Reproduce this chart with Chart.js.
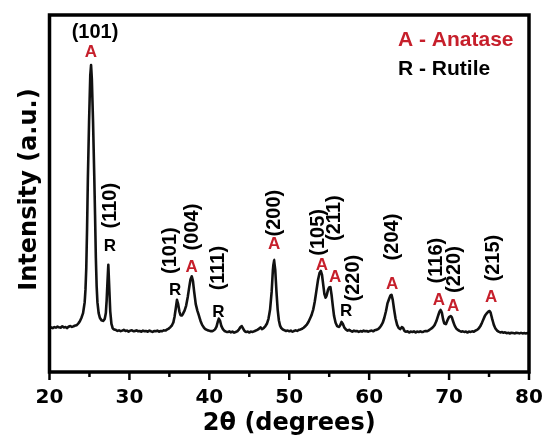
<!DOCTYPE html>
<html>
<head>
<meta charset="utf-8">
<script src="https://cdn.jsdelivr.net/npm/chart.js@4.4.1/dist/chart.umd.min.js"></script>
<style>
  html, body { margin: 0; padding: 0; background: #fff; }
  #xrd { display: block; }
</style>
</head>
<body>
<canvas id="xrd" width="544" height="436"></canvas>
<script>
// XRD pattern, 2theta (deg) vs intensity (a.u.)
const twoTheta = [
  20.0, 20.2, 20.4, 20.6, 20.8, 21.0, 21.2, 21.4, 21.6, 21.8,
  22.0, 22.2, 22.4, 22.6, 22.8, 23.0, 23.2, 23.4, 23.6, 23.8,
  24.0, 24.2, 24.4, 24.5, 24.6, 24.7, 24.8, 24.95, 25.1, 25.2,
  25.3, 25.45, 25.6, 25.7, 25.8, 25.9, 26.0, 26.15, 26.3, 26.5,
  26.7, 26.9, 27.05, 27.15, 27.25, 27.36, 27.47, 27.6, 27.75, 27.9,
  28.1, 28.3, 28.5, 28.7, 28.9, 29.1, 29.3, 29.5, 29.7, 29.9,
  30.1, 30.3, 30.5, 30.7, 30.9, 31.1, 31.3, 31.5, 31.7, 31.9,
  32.1, 32.3, 32.5, 32.7, 32.9, 33.1, 33.3, 33.5, 33.7, 33.9,
  34.1, 34.3, 34.5, 34.7, 34.9, 35.1, 35.3, 35.5, 35.65, 35.8,
  35.95, 36.1, 36.25, 36.4, 36.55, 36.7, 36.9, 37.1, 37.3, 37.5,
  37.65, 37.8, 37.95, 38.1, 38.3, 38.5, 38.7, 38.9, 39.1, 39.3,
  39.5, 39.7, 39.9, 40.1, 40.3, 40.5, 40.7, 40.9, 41.05, 41.2,
  41.35, 41.5, 41.7, 41.9, 42.1, 42.3, 42.5, 42.7, 42.9, 43.1,
  43.3, 43.5, 43.7, 43.9, 44.05, 44.2, 44.4, 44.6, 44.8, 45.0,
  45.2, 45.4, 45.6, 45.8, 46.0, 46.2, 46.4, 46.6, 46.8, 47.0,
  47.2, 47.4, 47.6, 47.8, 47.95, 48.1, 48.25, 48.4, 48.55, 48.7,
  48.85, 49.0, 49.2, 49.4, 49.6, 49.8, 50.0, 50.2, 50.4, 50.6,
  50.8, 51.0, 51.2, 51.4, 51.6, 51.8, 52.0, 52.2, 52.4, 52.6,
  52.8, 53.0, 53.2, 53.4, 53.6, 53.8, 53.95, 54.1, 54.25, 54.4,
  54.55, 54.7, 54.85, 55.0, 55.15, 55.3, 55.45, 55.6, 55.8, 56.0,
  56.2, 56.4, 56.55, 56.7, 56.9, 57.1, 57.3, 57.5, 57.7, 57.9,
  58.1, 58.3, 58.5, 58.7, 58.9, 59.1, 59.3, 59.5, 59.7, 59.9,
  60.1, 60.3, 60.5, 60.7, 60.9, 61.1, 61.3, 61.5, 61.7, 61.9,
  62.1, 62.3, 62.5, 62.65, 62.8, 62.95, 63.1, 63.3, 63.5, 63.7,
  63.9, 64.1, 64.25, 64.4, 64.6, 64.8, 65.0, 65.2, 65.4, 65.6,
  65.8, 66.0, 66.2, 66.4, 66.6, 66.8, 67.0, 67.2, 67.4, 67.6,
  67.8, 68.0, 68.2, 68.4, 68.6, 68.8, 68.95, 69.1, 69.25, 69.4,
  69.6, 69.8, 70.0, 70.2, 70.35, 70.5, 70.7, 70.9, 71.1, 71.3,
  71.5, 71.7, 71.9, 72.1, 72.3, 72.5, 72.7, 72.9, 73.1, 73.3,
  73.5, 73.7, 73.9, 74.1, 74.3, 74.5, 74.7, 74.9, 75.05, 75.2,
  75.4, 75.6, 75.8, 76.0, 76.2, 76.4, 76.6, 76.8, 77.0, 77.2,
  77.4, 77.6, 77.8, 78.0, 78.2, 78.4, 78.6, 78.8, 79.0, 79.2,
  79.4, 79.6, 79.8, 80.0
];
const intensity = [
  12.2, 12.5, 12.3, 12.6, 12.4, 12.7, 12.5, 12.4, 12.8, 12.5,
  12.6, 12.3, 12.7, 12.9, 12.6, 12.8, 13.0, 13.1, 13.6, 14.2,
  15.2, 16.5, 19.5, 23.0, 29.0, 40.0, 54.0, 70.0, 83.0, 86.0,
  82.0, 70.0, 55.0, 44.0, 32.0, 24.0, 19.5, 16.5, 15.2, 14.5,
  14.3, 14.8, 16.5, 20.0, 25.0, 30.0, 24.0, 17.0, 13.5, 12.3,
  11.9, 11.8, 11.5, 11.7, 11.4, 11.6, 11.8, 11.5, 11.6, 11.3,
  11.6, 11.7, 11.4, 11.5, 11.7, 11.4, 11.5, 11.3, 11.6, 11.4,
  11.5, 11.3, 11.6, 11.4, 11.2, 11.5, 11.4, 11.6, 11.3, 11.5,
  11.4, 11.7, 11.6, 11.9, 12.1, 12.5, 13.0, 13.9, 15.5, 17.8,
  20.2, 19.0, 17.0, 15.9, 15.8, 16.3, 17.2, 18.6, 21.0, 24.0,
  26.0, 26.8, 25.5, 22.5, 19.0, 17.2, 15.8, 14.3, 13.2, 12.5,
  12.0, 11.8, 11.6, 11.5, 11.4, 11.6, 11.9, 12.7, 14.0, 15.0,
  14.3, 12.9, 12.0, 11.5, 11.3, 11.2, 11.4, 11.1, 11.3, 11.0,
  11.2, 11.4, 11.9, 12.6, 12.9, 12.3, 11.5, 11.2, 11.3, 11.1,
  11.3, 11.2, 11.4, 11.6, 11.8, 12.1, 12.5, 12.0, 12.3, 12.8,
  13.5, 14.9, 17.5, 22.5, 28.5, 31.4, 28.5, 22.5, 17.5, 14.5,
  13.0, 12.3, 11.9, 11.7, 11.5, 11.6, 11.4, 11.6, 11.3, 11.5,
  11.7, 11.5, 11.8, 11.9, 12.1, 12.4, 12.8, 13.3, 14.0, 15.0,
  16.0, 17.5, 19.8, 22.8, 25.8, 27.8, 28.3, 27.2, 24.5, 21.8,
  20.8, 21.6, 23.0, 23.7, 23.8, 21.5, 18.5, 15.8, 13.8, 12.8,
  12.6, 13.2, 14.1, 13.5, 12.4, 11.9, 11.6, 11.8, 11.5, 11.3,
  11.6, 11.4, 11.5, 11.2, 11.5, 11.3, 11.6, 11.4, 11.5, 11.3,
  11.5, 11.6, 11.4, 11.7, 11.8, 12.0, 12.4, 13.0, 13.8, 15.2,
  17.0, 19.3, 20.5, 21.4, 21.6, 20.2, 17.8, 15.0, 13.2, 12.3,
  12.0, 12.6, 12.3, 11.6, 11.3, 11.4, 11.1, 11.3, 11.2, 11.4,
  11.1, 11.3, 11.2, 11.4, 11.2, 11.3, 11.5, 11.4, 11.6, 11.9,
  12.2, 12.6, 13.2, 14.2, 15.6, 16.9, 17.4, 16.6, 14.8, 13.6,
  13.4, 14.5, 15.4, 15.7, 15.3, 14.2, 13.0, 12.2, 11.8, 11.5,
  11.3, 11.4, 11.2, 11.3, 11.1, 11.3, 11.2, 11.4, 11.3, 11.6,
  11.8, 12.2, 12.8, 13.7, 14.8, 15.8, 16.4, 16.9, 17.1, 16.6,
  14.8, 13.2, 12.2, 11.6, 11.3, 11.1, 11.2, 11.0, 11.1, 10.9,
  11.0, 10.8, 11.0, 10.9, 10.8, 11.0, 10.9, 10.8, 11.0, 10.8,
  10.9, 10.8, 10.9, 10.9
];

// x axis ticks
const xMajorTicks = [20, 30, 40, 50, 60, 70, 80];
const xMinorTicks = [25, 35, 45, 55, 65, 75];

// peak annotations: phase letter + (hkl), placed in data coordinates
const peakPhase = ['A', 'R', 'R', 'A', 'R', 'A', 'A', 'A', 'R', 'A', 'A', 'A', 'A'];
const peakHkl = ['(101)', '(110)', '(101)', '(004)', '(111)', '(200)', '(105)', '(211)', '(220)', '(204)', '(116)', '(220)', '(215)'];
const letterX = [25.19, 27.57, 35.71, 37.80, 41.13, 48.10, 54.07, 55.73, 57.11, 62.87, 68.71, 70.50, 75.26];
const letterY = [89.9, 35.4, 23.1, 29.6, 17.0, 36.1, 30.2, 26.7, 17.4, 24.9, 20.3, 18.7, 21.2];
const hklX = [25.69, 27.63, 35.08, 37.83, 41.20, 48.10, 53.60, 55.60, 57.98, 62.87, 68.45, 70.70, 75.50];
const hklY = [95.2, 46.6, 34.0, 40.6, 29.1, 44.5, 39.1, 43.1, 26.3, 37.8, 31.2, 28.7, 31.9];

const legendItems = ['A - Anatase', 'R - Rutile'];

const RED = '#c61f2b';

const points = twoTheta.map((t, i) => ({ x: t, y: intensity[i] }));

const decor = {
  id: 'decor',
  afterDraw(chart) {
    const ctx = chart.ctx;
    const a = chart.chartArea;
    const xs = chart.scales.x;
    const ys = chart.scales.y;
    ctx.save();

    // ticks below the axis
    ctx.strokeStyle = '#000';
    ctx.lineWidth = 2.5;
    xMajorTicks.forEach(v => {
      const px = xs.getPixelForValue(v);
      ctx.beginPath(); ctx.moveTo(px, a.bottom); ctx.lineTo(px, a.bottom + 8); ctx.stroke();
    });
    xMinorTicks.forEach(v => {
      const px = xs.getPixelForValue(v);
      ctx.beginPath(); ctx.moveTo(px, a.bottom); ctx.lineTo(px, a.bottom + 5); ctx.stroke();
    });

    // frame
    ctx.lineWidth = 3.5;
    ctx.strokeRect(a.left, a.top, a.right - a.left, a.bottom - a.top);

    // tick labels
    ctx.fillStyle = '#000';
    ctx.font = 'bold 20px "DejaVu Sans"';
    ctx.textAlign = 'center';
    ctx.textBaseline = 'alphabetic';
    xMajorTicks.forEach(v => {
      ctx.fillText(String(v), xs.getPixelForValue(v), a.bottom + 31);
    });

    // axis titles
    ctx.font = 'bold 24px "DejaVu Sans"';
    ctx.fillText('2\u03b8 (degrees)', (a.left + a.right) / 2, a.bottom + 58);
    ctx.save();
    ctx.translate(36, (a.top + a.bottom) / 2 - 4);
    ctx.rotate(-Math.PI / 2);
    ctx.fillText('Intensity (a.u.)', 0, 0);
    ctx.restore();

    // legend text
    ctx.font = 'bold 21px "Liberation Sans"';
    ctx.textAlign = 'left';
    ctx.textBaseline = 'middle';
    ctx.fillStyle = RED;
    ctx.fillText(legendItems[0], 398, 40);
    ctx.fillStyle = '#000';
    ctx.fillText(legendItems[1], 398, 69);

    // peak labels
    ctx.textAlign = 'center';
    peakPhase.forEach((ph, i) => {
      ctx.font = 'bold 17px "Liberation Sans"';
      ctx.fillStyle = ph === 'A' ? RED : '#000';
      ctx.fillText(ph, xs.getPixelForValue(letterX[i]), ys.getPixelForValue(letterY[i]) + 1);

      ctx.fillStyle = '#000';
      ctx.font = 'bold 20px "Liberation Sans"';
      const hx = xs.getPixelForValue(hklX[i]);
      const hy = ys.getPixelForValue(hklY[i]);
      if (i === 0) {
        ctx.fillText(peakHkl[i], hx, hy);
      } else {
        ctx.save();
        ctx.translate(hx, hy);
        ctx.rotate(-Math.PI / 2);
        ctx.fillText(peakHkl[i], 0, 0);
        ctx.restore();
      }
    });

    ctx.restore();
  }
};

new Chart(document.getElementById('xrd').getContext('2d'), {
  type: 'scatter',
  data: {
    datasets: [{
      data: points,
      showLine: true,
      borderColor: '#111',
      borderWidth: 2.6,
      pointRadius: 0,
      // tiny tension keeps Chart.js off its fast path, which draws
      // vertical spans when several points share a pixel column
      tension: 0.01,
      borderJoinStyle: 'round'
    }]
  },
  options: {
    responsive: false,
    animation: false,
    devicePixelRatio: 1,
    layout: { padding: { top: 15, right: 15, left: 0, bottom: 0 } },
    plugins: {
      legend: { display: false },
      tooltip: { enabled: false }
    },
    scales: {
      x: {
        type: 'linear',
        min: 20,
        max: 80,
        ticks: { display: false },
        grid: { display: false },
        border: { display: false },
        afterFit: s => { s.height = 64; }
      },
      y: {
        min: 0,
        max: 100,
        ticks: { display: false },
        grid: { display: false },
        border: { display: false },
        afterFit: s => { s.width = 49.5; }
      }
    }
  },
  plugins: [decor]
});
</script>
</body>
</html>
